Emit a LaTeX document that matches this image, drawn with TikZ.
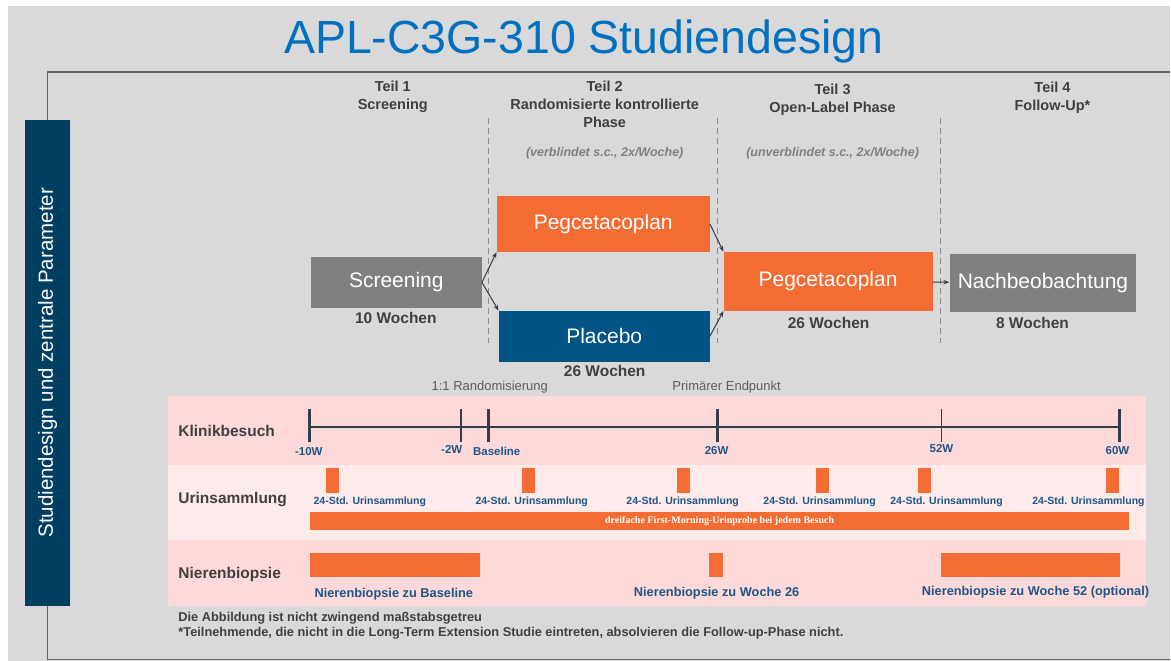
\documentclass[tikz,border=0pt]{standalone}
\usepackage{fontspec}
\setmainfont{Liberation Sans}
\newfontfamily\probefont{Liberation Serif}
\usetikzlibrary{arrows.meta}
\definecolor{bggray}{RGB}{217,217,217}
\definecolor{titleblue}{RGB}{0,112,192}
\definecolor{navy}{RGB}{0,63,98}
\definecolor{placeblue}{RGB}{0,84,134}
\definecolor{pegorange}{RGB}{243,108,52}
\definecolor{boxgray}{RGB}{128,128,128}
\definecolor{rowpink}{RGB}{253,217,217}
\definecolor{rowlight}{RGB}{253,234,234}
\definecolor{darktext}{RGB}{64,64,64}
\definecolor{linegray}{RGB}{51,63,72}
\definecolor{tickblue}{RGB}{31,86,135}
\tikzset{
  frame/.style={draw=linegray!80, line width=1.2pt},
  sidebox/.style={fill=navy, text=white, rotate=90, minimum width=486pt, minimum height=45pt,
    inner sep=0pt, font=\fontsize{20.5}{20.5}\selectfont},
  title/.style={text=titleblue, font=\fontsize{46.5}{46.5}\selectfont},
  head/.style={align=center, text=darktext, font=\bfseries\fontsize{14.5}{18}\selectfont},
  note/.style={text=gray, font=\bfseries\itshape\fontsize{12.5}{13}\selectfont},
  divider/.style={draw=gray!90, dash pattern=on 6pt off 4pt, line width=0.8pt},
  phase/.style={inner sep=0pt, text=white, font=\fontsize{21}{21}\selectfont},
  weeks/.style={text=darktext, font=\bfseries\fontsize{15.5}{15.5}\selectfont},
  flow/.style={draw=linegray, line width=1pt, -{Stealth[length=6pt,width=4.5pt]}},
  marker/.style={text=darktext!85, font=\fontsize{13}{13}\selectfont},
  rowlabel/.style={anchor=west, text=darktext, font=\bfseries\fontsize{15.5}{15.5}\selectfont},
  axis/.style={draw=linegray, line width=2pt},
  bluelabel/.style={text=tickblue, font=\bfseries\fontsize{11.5}{12}\selectfont},
  footnote/.style={anchor=west, text=darktext, font=\bfseries\fontsize{12.8}{13}\selectfont}
}
\begin{document}
\begin{tikzpicture}[x=1pt,y=-1pt]
    % Background
    \fill[white] (0,0) rectangle (1171,661);
    \fill[bggray] (8,6) rectangle (1171,661);
    % Side label and frame
    \node[sidebox] (side) at (47.5,363) {Studiendesign und zentrale Parameter};
    \draw[frame] (1171,72) -- (47.5,72) -- (side.east);
    \draw[frame] (side.west) -- (47.5,660) -- (1171,660);
    % Title
    \node[title] (title) at (584,42) {APL-C3G-310 Studiendesign};
    % Parts
    \node[head] (teilA) at (393,96.5) {Teil 1\\Screening};
    \node[head] (teilB) at (605,104.5) {Teil 2\\Randomisierte kontrollierte\\Phase};
    \node[head] (teilC) at (833,100) {Teil 3\\Open-Label Phase};
    \node[head] (teilD) at (1053,97.5) {Teil 4\\Follow-Up*};
    \node[note] (noteB) at (605,153) {(verblindet s.c., 2x/Woche)};
    \node[note] (noteC) at (833,153) {(unverblindet s.c., 2x/Woche)};
    \foreach \x in {489,718,941}
        \draw[divider] (\x,118) -- (\x,343);
    % Treatment boxes
    \node[phase, fill=boxgray, minimum width=171pt, minimum height=51pt] (screen) at (396.5,282.5) {Screening};
    \node[phase, fill=pegorange, minimum width=213pt, minimum height=56pt] (pegA) at (603.5,224) {Pegcetacoplan};
    \node[phase, fill=placeblue, minimum width=211pt, minimum height=51pt] (placebo) at (604.5,336.5) {Placebo};
    \node[phase, fill=pegorange, minimum width=209pt, minimum height=59pt] (pegB) at (828.5,281.5) {Pegcetacoplan};
    \node[phase, fill=boxgray, minimum width=187pt, minimum height=58pt] (nachb) at (1043.5,283) {Nachbeobachtung};
    \node[weeks] (wkScreen) at (396,318) {10 Wochen};
    \node[weeks] (wkPlacebo) at (605,371) {26 Wochen};
    \node[weeks] (wkPegB) at (829,323) {26 Wochen};
    \node[weeks] (wkNachb) at (1033,323) {8 Wochen};
    % Arrows
    \draw[flow] (screen.east) -- (pegA.south west);
    \draw[flow] (screen.east) -- (placebo.north west);
    \draw[flow] (pegA.east) -- (pegB.north west);
    \draw[flow] (placebo.east) -- (pegB.south west);
    \draw[flow] (pegB) -- (nachb);
    % Rows
    \fill[rowpink] (168,396) rectangle (1147,465);
    \fill[rowlight] (168,465) rectangle (1147,540);
    \fill[rowpink] (168,540) rectangle (1147,606);
    \node[rowlabel] (rowVisit) at (175,431) {Klinikbesuch};
    \node[rowlabel] (rowUrine) at (175,500) {Urinsammlung};
    \node[rowlabel] (rowBiopsy) at (175,575) {Nierenbiopsie};
    \node[marker] (rando) at (490,387) {1:1 Randomisierung};
    \node[marker] (endpoint) at (727,387) {Primärer Endpunkt};
    % Timeline
    \draw[axis] (310,427) -- (1120,427);
    \foreach \x in {310,489,718,1120}
        \draw[axis, line width=3pt] (\x,409) -- (\x,442);
    \foreach \x in {461,942}
        \draw[axis, line width=1.5pt] (\x,409) -- (\x,442);
    \foreach \x/\y/\t in {309/452/-10W, 452/450/-2W, 497/452/Baseline, 717/451/26W, 942/449/52W, 1118/451/60W}
        \node[bluelabel] at (\x,\y) {\t};
    % Urine collection
    \foreach \x/\l in {326/370, 522/532, 677/683, 816/820, 918/947, 1107/1089} {
        \fill[pegorange] (\x,468) rectangle ++(13,25);
        \node[bluelabel, font=\bfseries\fontsize{10.5}{11}\selectfont] at (\l,502) {24-Std. Urinsammlung};
    }
    \node[fill=pegorange, text=white, minimum width=820pt, minimum height=18pt, inner sep=0pt,
        font=\probefont\bfseries\fontsize{10}{10}\selectfont] (morning) at (720,521)
        {dreifache First-Morning-Urinprobe bei jedem Besuch};
    % Biopsies
    \fill[pegorange] (310,553) rectangle (480,577);
    \fill[pegorange] (709,553) rectangle (723,577);
    \fill[pegorange] (941,553) rectangle (1121,577);
    \node[bluelabel, font=\bfseries\fontsize{12.8}{13}\selectfont] at (394,594) {Nierenbiopsie zu Baseline};
    \node[bluelabel, font=\bfseries\fontsize{12.8}{13}\selectfont] at (717,593) {Nierenbiopsie zu Woche 26};
    \node[bluelabel, font=\bfseries\fontsize{12.8}{13}\selectfont] at (1036,592) {Nierenbiopsie zu Woche 52 (optional)};
    % Footnotes
    \node[footnote] at (175,619) {Die Abbildung ist nicht zwingend maßstabsgetreu};
    \node[footnote] at (175,634) {*Teilnehmende, die nicht in die Long-Term Extension Studie eintreten, absolvieren die Follow-up-Phase nicht.};
\end{tikzpicture}
\end{document}
